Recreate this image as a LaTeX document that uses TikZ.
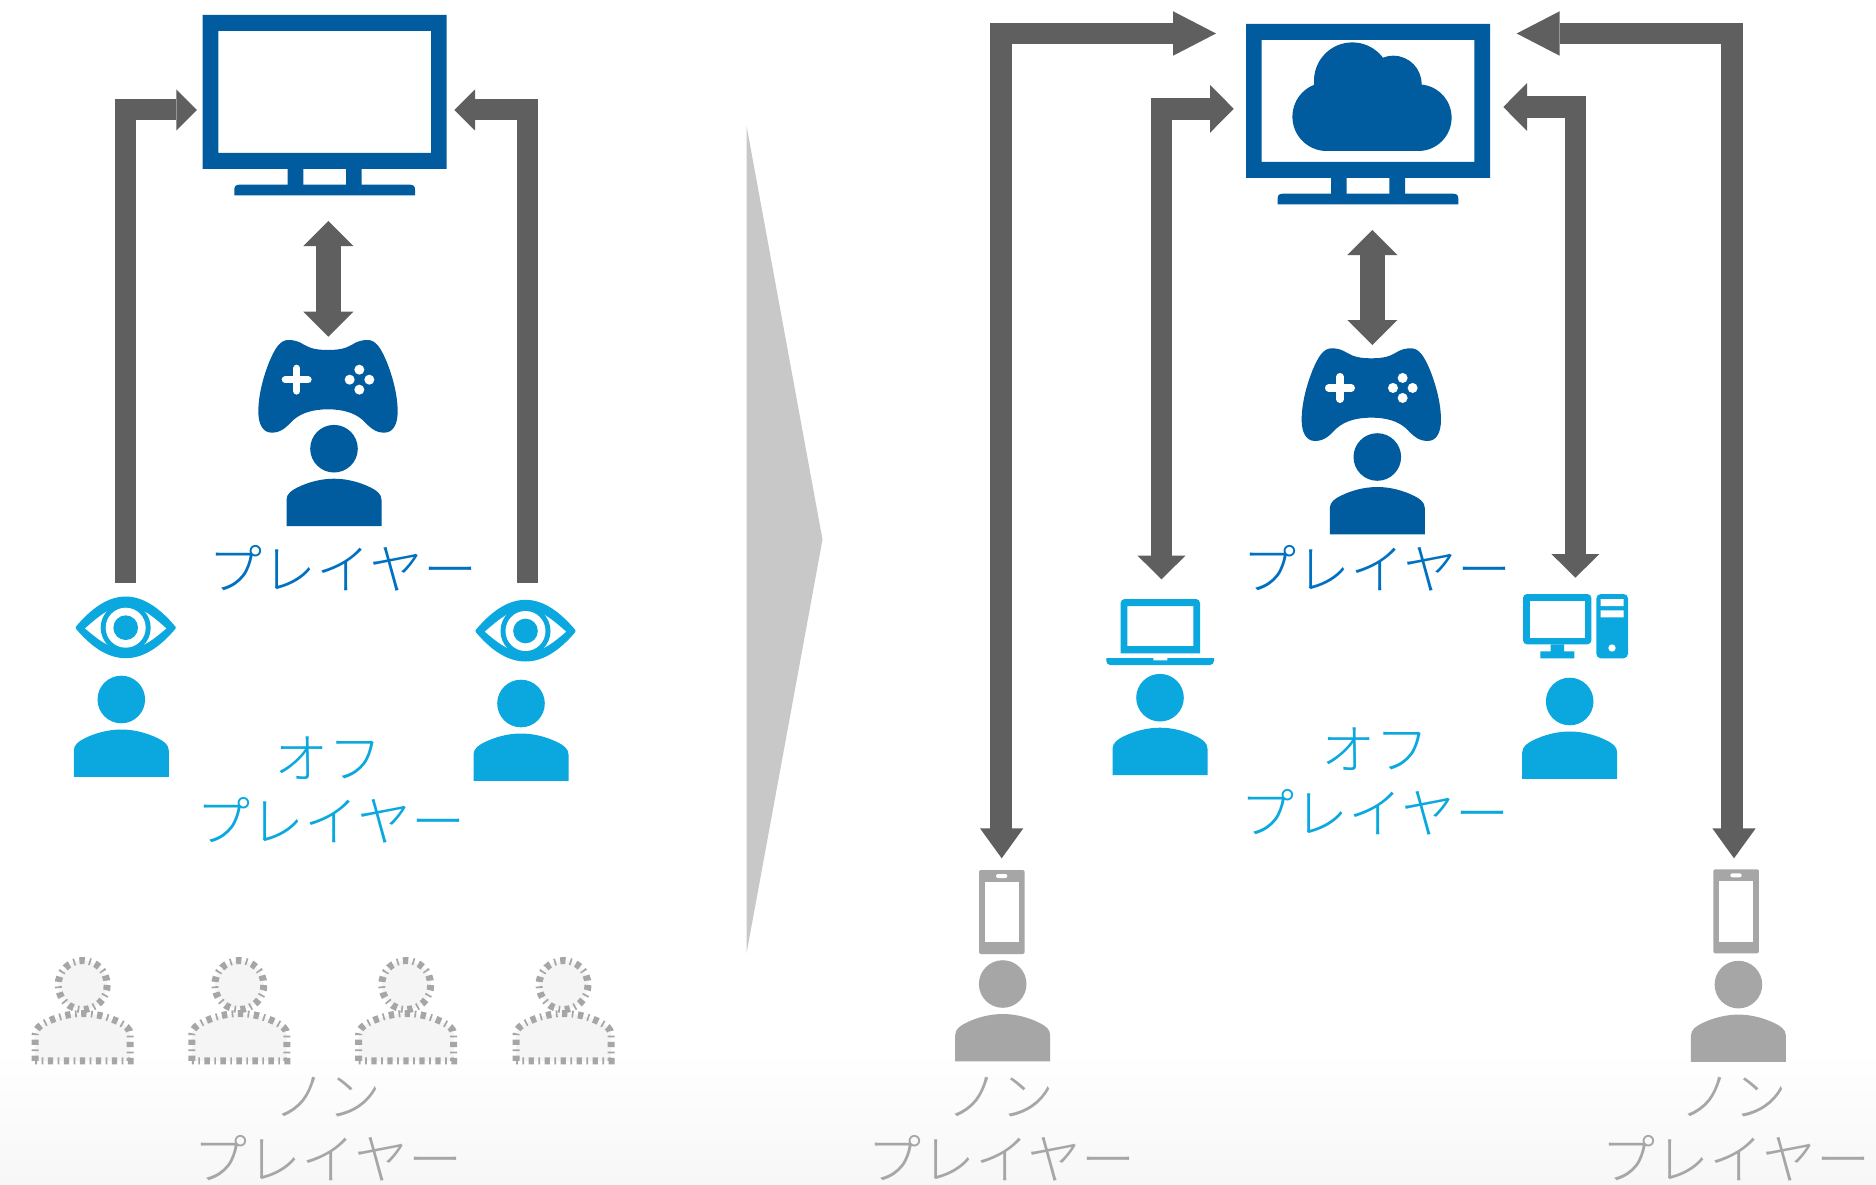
\documentclass[tikz,border=0pt]{standalone}
\usepackage{fontspec}
\usetikzlibrary{arrows.meta}
\newfontfamily\jp{Noto Sans CJK JP Light}
\definecolor{tvblue}{HTML}{005C9F}
\definecolor{txtblue}{HTML}{0070C0}
\definecolor{cyanb}{HTML}{0AA8DE}
\definecolor{greyb}{HTML}{A6A6A6}
\definecolor{darkg}{HTML}{5F5F5F}
\definecolor{paleg}{HTML}{F5F5F5}
\definecolor{bgpale}{HTML}{F7F7F7}
\definecolor{wedgeg}{HTML}{C8C8C8}
\tikzset{
  conn/.style={draw=darkg,line join=miter,line cap=butt},
  bigbody/.style={conn,line width=21.5pt,-{Triangle[length=43pt,width=44.5pt,line width=0pt]}},
  smallr/.style={conn,line width=21.5pt,{Triangle[length=23.7pt,width=48pt,line width=0pt]}-{Triangle[length=23.7pt,width=48pt,line width=0pt]}},
  smalll/.style={conn,line width=21pt,-{Triangle[length=20.7pt,width=41pt,line width=0pt]}},
  dbl/.style={conn,line width=25.5pt,{Triangle[length=25pt,width=50pt,line width=0pt]}-{Triangle[length=25pt,width=50pt,line width=0pt]}},
  jtext/.style={font=\jp\fontsize{54}{54}\selectfont,inner sep=0pt,anchor=base},
  ghost/.style={draw=greyb,fill=paleg,line width=7pt,dash pattern=on 5.3pt off 4.5pt on 1.7pt off 4.5pt},
}
% person, origin = head centre
\newcommand{\bodypath}{(-47.5,77.3) -- (-47.5,51) .. controls (-47.5,45) and (-42,41.5) .. (-37,39) .. controls (-26,33.5) and (-13,30) .. (0,30) .. controls (13,30) and (26,33.5) .. (37,39) .. controls (42,41.5) and (47.5,45) .. (47.5,51) -- (47.5,77.3) -- cycle}
\newcommand{\personicon}[3]{\begin{scope}[shift={(#1,#2)}]
  \fill[#3] (0,0) circle[radius=23.8];
  \fill[#3] \bodypath;
\end{scope}}
\newcommand{\ghostperson}[2]{\begin{scope}[shift={(#1,#2)}]
  \path[ghost] (0,0) circle[radius=24.5];
  \path[ghost,yshift=1.5pt] \bodypath;
\end{scope}}
\newcommand{\tvicon}[2]{\begin{scope}[shift={(#1,#2)}]
  \fill[tvblue,even odd rule] (0,0) rectangle (244,154) (15.6,16) rectangle (228.3,138);
  \fill[tvblue] (85,154) rectangle (100.6,170) (143.3,154) rectangle (159,170);
  \fill[tvblue] (31.6,180.3) -- (31.6,174.7) .. controls (31.6,171.5) and (33,169.7) .. (36.6,169.7) -- (207.3,169.7) .. controls (211,169.7) and (212.3,171.5) .. (212.3,174.7) -- (212.3,180.3) -- cycle;
\end{scope}}
\newcommand{\padicon}[2]{\begin{scope}[shift={(#1,#2)},scale=1/3]
  \fill[tvblue] (294,90) .. controls (260,90) and (240,85) .. (222,74) .. controls (205,63) and (190,60) .. (175,60) .. controls (150,60) and (135,85) .. (118,125) .. controls (100,170) and (85,225) .. (85,275) .. controls (85,315) and (100,338) .. (125,338) .. controls (155,338) and (170,320) .. (190,300) .. controls (215,278) and (250,268) .. (294,268) .. controls (338,268) and (373,278) .. (398,300) .. controls (418,320) and (433,338) .. (463,338) .. controls (488,338) and (503,315) .. (503,275) .. controls (503,225) and (488,170) .. (470,125) .. controls (453,85) and (438,60) .. (413,60) .. controls (398,60) and (383,63) .. (366,74) .. controls (348,85) and (328,90) .. (294,90) -- cycle;
  \draw[white,line width=7.3pt,line cap=round] (166,179) -- (234,179) (200,145) -- (200,213);
  \foreach \bx/\by in {388/149,359/179,418/179,388/209} \fill[white] (\bx,\by) circle[radius=15];
\end{scope}}
\newcommand{\eyeicon}[2]{\begin{scope}[shift={(#1,#2)},scale=1/3]
  \filldraw[cyanb,line width=3pt,line join=round] (-146,0) .. controls (-104,-50) and (-55,-89) .. (0,-89) .. controls (55,-89) and (104,-50) .. (146,0) .. controls (104,50) and (55,87) .. (0,87) .. controls (-55,87) and (-104,50) .. (-146,0) -- cycle;
  \fill[white] (-122,2) .. controls (-90,-25) and (-50,-65) .. (0,-65) .. controls (50,-65) and (90,-25) .. (122,2) .. controls (90,29) and (50,65) .. (0,65) .. controls (-50,65) and (-90,29) .. (-122,2) -- cycle;
  \fill[cyanb] (0,0) circle[radius=75];
  \fill[white] (0,0) circle[radius=60];
  \fill[cyanb] (0,0) circle[radius=37];
\end{scope}}
\newcommand{\phoneicon}[2]{\begin{scope}[shift={(#1,#2)},scale=1/3]
  \fill[greyb,rounded corners=2pt] (87,30) rectangle (224,282);
  \fill[white] (104,66) rectangle (207,247);
  \fill[white,rounded corners=2pt] (138,42) rectangle (172,54);
\end{scope}}
\begin{document}
\begin{tikzpicture}[x=1pt,y=-1pt]
\useasboundingbox (0,0) rectangle (1876,1185);
\fill[white] (0,0) rectangle (1876,1185);
\shade[top color=white,bottom color=bgpale,draw=none] (0,1050) rectangle (1876,1185);
% wedge
\fill[wedgeg] (746.5,125.6) -- (822.5,539.6) -- (746.5,953.5) -- cycle;

% ---------- left panel icons
\tvicon{202.7}{15}
\padicon{230}{320}
\personicon{334}{448.7}{tvblue}
\eyeicon{125.7}{627.7}
\personicon{121.3}{699.5}{cyanb}
\eyeicon{525.5}{631}
\personicon{521}{703.5}{cyanb}
\ghostperson{82.7}{985}
\ghostperson{239.3}{985}
\ghostperson{406.2}{985}
\ghostperson{563.5}{985}

% ---------- left panel connectors
\coordinate (eyeLtop) at (125,583);
\coordinate (tvL) at (197,110);
\coordinate (eyeRtop) at (527,583);
\coordinate (tvR) at (454.3,110);
\coordinate (tvB) at (328.3,221);
\coordinate (padT) at (328.3,336.7);
\draw[smalll] (eyeLtop) |- (tvL);
\draw[smalll] (eyeRtop) |- (tvR);
\draw[dbl] (tvB) -- (padT);

% ---------- left panel labels
\node[jtext,text=txtblue] (lplayer) at (343,589) {\jp プレイヤー};
\node[jtext,text=cyanb] (loff) at (328,778) {\jp オフ};
\node[jtext,text=cyanb] (loffp) at (331,841) {\jp プレイヤー};
\node[jtext,text=greyb] (lnon) at (327,1116) {\jp ノン};
\node[jtext,text=greyb] (lnonp) at (328,1179) {\jp プレイヤー};

% ---------- right panel icons
\tvicon{1246}{24}
\fill[tvblue] (1326.7,116.7) circle[radius=34.3] (1352.3,80.7) circle[radius=38.3] (1393.3,84) circle[radius=28.3] (1418.3,117.7) circle[radius=33.3];
\fill[tvblue] (1326.7,95) rectangle (1418.3,151);
\padicon{1273.3}{328.3}
\personicon{1377.3}{457}{tvblue}
% laptop
\begin{scope}[shift={(1090,580)},scale=1/3]
  \fill[cyanb,even odd rule] (92,220) [rounded corners=4pt] -- (92,57) -- (330,57) [sharp corners] -- (330,220) -- cycle (112,78) rectangle (310,198);
  \fill[cyanb] (49,234) -- (190,234) -- (190,241) -- (232,241) -- (232,234) -- (372,234) [rounded corners=4pt] -- (372,255) -- (49,255) [sharp corners] -- cycle;
\end{scope}
\personicon{1160}{697.7}{cyanb}
% desktop
\begin{scope}[shift={(1510,580)},scale=1/3]
  \fill[cyanb,rounded corners=4pt] (39,42) rectangle (244,193);
  \fill[white] (60,63) rectangle (225,174);
  \fill[cyanb] (122,193) rectangle (162,214) (91,214) rectangle (193,235);
  \fill[cyanb,rounded corners=4.5pt] (259,42) rectangle (354,235);
  \fill[white] (272,57) rectangle (341,78) (272,91) rectangle (341,112);
  \fill[white] (306,204) circle[radius=11];
\end{scope}
\personicon{1569.7}{701.5}{cyanb}
\phoneicon{950}{860}
\personicon{1002.7}{984}{greyb}
\phoneicon{1684.3}{859.3}
\personicon{1738.4}{984.6}{greyb}

% ---------- right panel connectors
\coordinate (phLtop) at (1001.7,858.3);
\coordinate (phLbase) at (1001,829);
\coordinate (tvLa) at (1216,33.5);
\coordinate (lapTop) at (1161.5,579.3);
\coordinate (tvLb) at (1233.7,108.8);
\coordinate (pcTop) at (1575.4,577.7);
\coordinate (tvRb) at (1503.3,107);
\coordinate (phRtop) at (1734,858.3);
\coordinate (phRbase) at (1731.8,829);
\coordinate (tvRa) at (1516.7,33.5);
\coordinate (tvB2) at (1372.3,230);
\coordinate (padT2) at (1372.3,345);
\draw[bigbody] (phLbase) |- (tvLa);
\fill[darkg] (phLtop) -- (1023.3,828.3) -- (980,828.3) -- cycle;
\draw[smallr] (lapTop) |- (tvLb);
\draw[smallr] (pcTop) |- (tvRb);
\draw[bigbody] (phRbase) |- (tvRa);
\fill[darkg] (phRtop) -- (1755.7,828.3) -- (1712.3,828.3) -- cycle;
\draw[dbl] (tvB2) -- (padT2);

% ---------- right panel labels
\node[jtext,text=txtblue] (rplayer) at (1377,589) {\jp プレイヤー};
\node[jtext,text=cyanb] (roff) at (1375,769) {\jp オフ};
\node[jtext,text=cyanb] (roffp) at (1375,833) {\jp プレイヤー};
\node[jtext,text=greyb] (rnonl) at (1000,1116) {\jp ノン};
\node[jtext,text=greyb] (rnonlp) at (1001.5,1179) {\jp プレイヤー};
\node[jtext,text=greyb] (rnonr) at (1733,1116) {\jp ノン};
\node[jtext,text=greyb] (rnonrp) at (1736,1179) {\jp プレイヤー};
\end{tikzpicture}
\end{document}
